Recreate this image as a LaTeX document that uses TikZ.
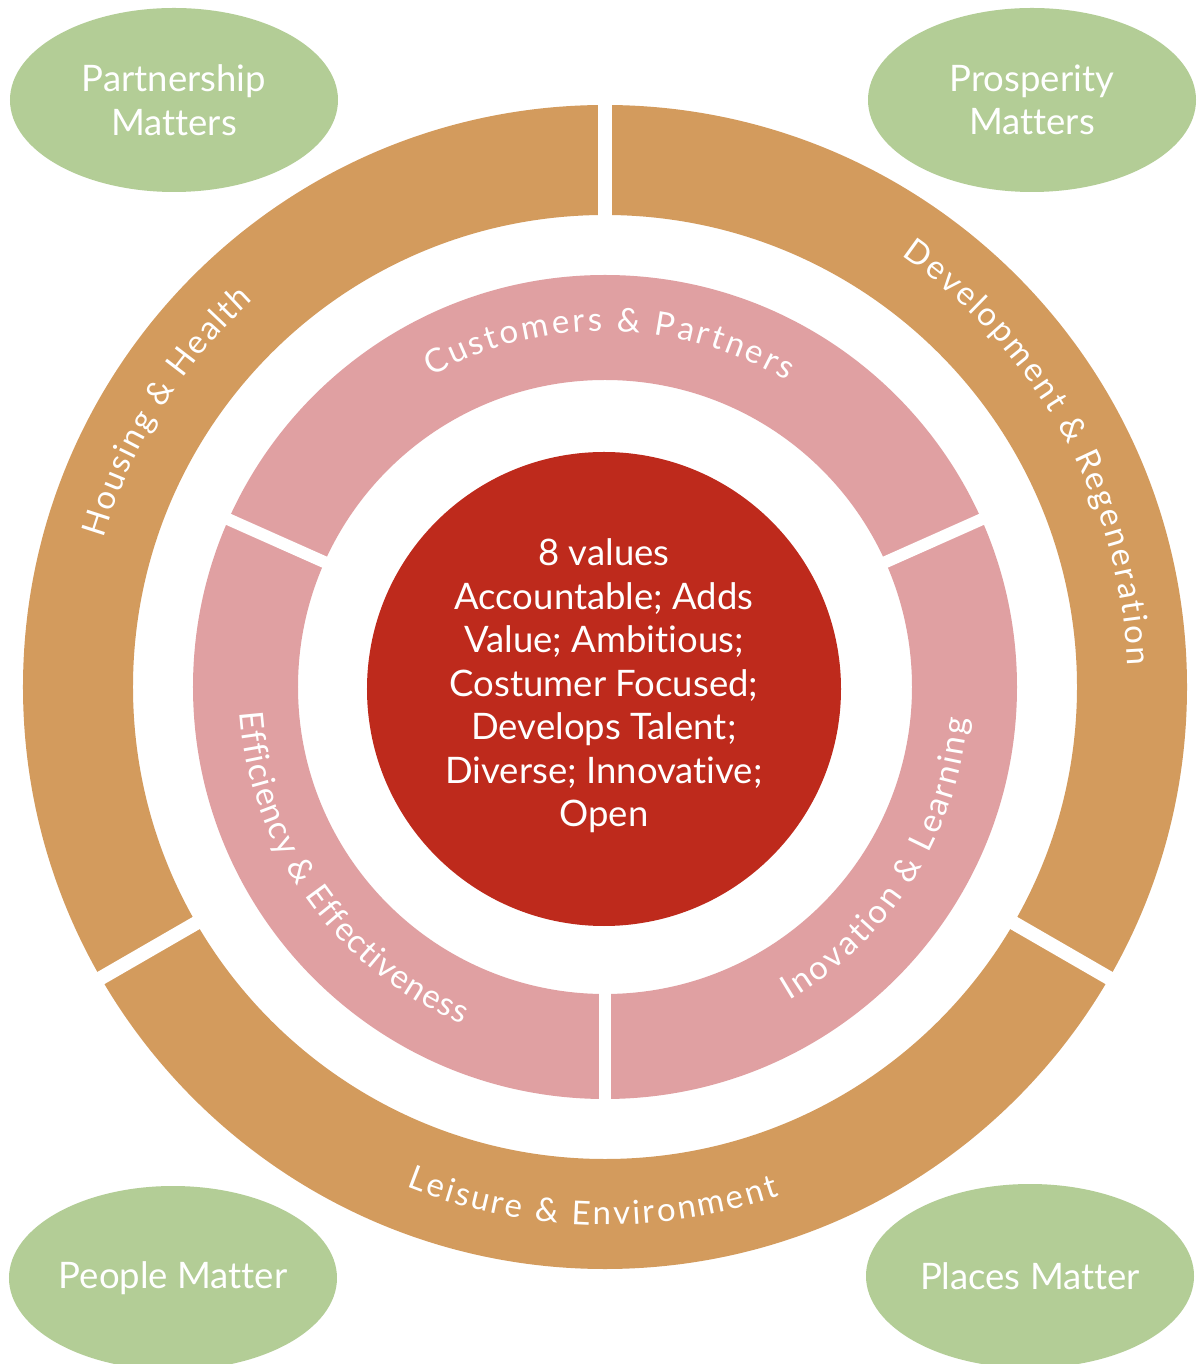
\documentclass[tikz,border=0pt]{standalone}
\usepackage{fontspec}
\setmainfont{Lato}[Ligatures={NoCommon}]
\usetikzlibrary{decorations.text,shapes.geometric}
\definecolor{ringorange}{HTML}{D39B5D}
\definecolor{ringpink}{HTML}{E0A0A2}
\definecolor{corered}{HTML}{BE2A1C}
\definecolor{leafgreen}{HTML}{B3CD96}
\newcommand{\myringfont}{\fontsize{33}{40}\selectfont\color{white}}
\newcommand{\mybigfont}{\fontsize{36.5}{43.5}\selectfont}
\begin{document}
\begin{tikzpicture}[x=1pt,y=1pt,
  matterbubble/.style={ellipse, fill=leafgreen, minimum width=328pt, minimum height=184pt, inner sep=0pt, align=center, text=white, font=\mybigfont},
  ringlabel/.style={decorate, decoration={text along path, text align=fit to path, text={#1}}},
  ringgap/.style={white, line width=#1},
]
% canvas
\fill[white] (-605,-677) rectangle (597,687);
\useasboundingbox (-605,-677) rectangle (597,687);

% outer orange ring with three gaps
\fill[ringorange, even odd rule] (0,0) circle[radius=582] (0,0) circle[radius=472];
\foreach \a in {90,210,330} \draw[ringgap=14pt] (\a:462) -- (\a:592);

% pink ring with three gaps
\fill[ringpink, even odd rule] (0,0) circle[radius=412] (0,0) circle[radius=307];
\foreach \a in {24,156,270} \draw[ringgap=12pt] (\a:300) -- (\a:420);

% red core
\node[circle, fill=corered, minimum size=474pt, inner sep=0pt] (core) at (-1,-2) {};
\node[align=center, text=white, font=\mybigfont] (values) at (-1,1)
  {8 values\\Accountable; Adds\\Value; Ambitious;\\Costumer Focused;\\Develops Talent;\\Diverse; Innovative;\\Open};

% ring labels (orange)
\path[ringlabel={|\myringfont|Housing {\&} Health}]
  (163.5:523) arc[start angle=163.5, end angle=132.3, radius=523];
\path[ringlabel={|\myringfont|Development {\&} Regeneration}]
  (55.5:523) arc[start angle=55.5, end angle=2.4, radius=523];
\path[ringlabel={|\myringfont|Leisure {\&} Environment}]
  (248.3:538) arc[start angle=248.3, end angle=288.9, radius=538];

% ring labels (pink)
\path[ringlabel={|\myringfont|Customers {\&} Partners}]
  (119.2:356) arc[start angle=119.2, end angle=59.3, radius=356];
\path[ringlabel={|\myringfont|Efficiency {\&} Effectiveness}]
  (184:366) arc[start angle=184, end angle=247, radius=366];
\path[ringlabel={|\myringfont|Inovation {\&} Learning}]
  (300.5:364) arc[start angle=300.5, end angle=355, radius=364];

% corner bubbles
\node[matterbubble] (partnership) at (-431,587) {Partnership\\Matters};
\node[matterbubble] (prosperity) at (427,587) {Prosperity\\Matters};
\node[matterbubble] (people) at (-432,-591) {People Matter};
\node[matterbubble] (places) at (425,-589) {Places Matter};
\end{tikzpicture}
\end{document}
